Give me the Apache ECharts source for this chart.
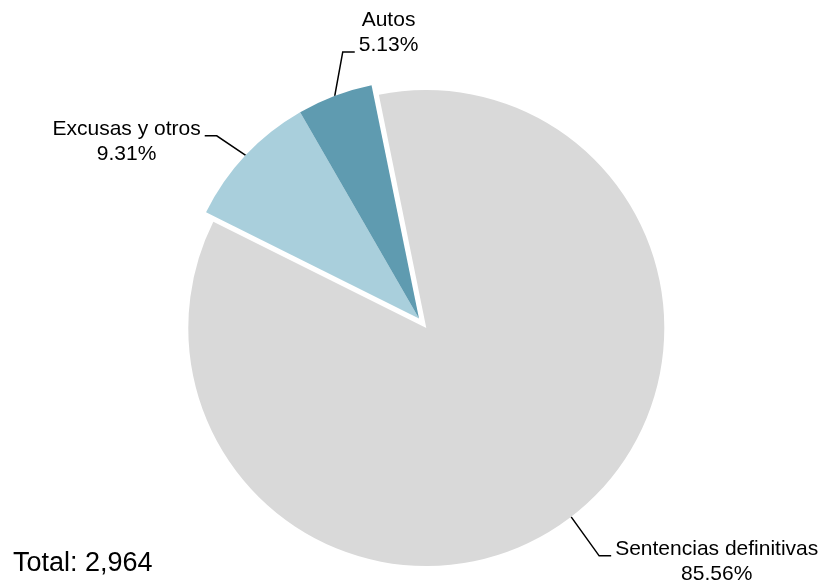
<!DOCTYPE html>
<html>
<head>
<meta charset="utf-8">
<script src="https://cdn.jsdelivr.net/npm/echarts@6/dist/echarts.min.js"></script>
<style>
  html, body { margin: 0; padding: 0; background: #fff; }
  #chart { width: 826px; height: 585px; }
</style>
</head>
<body>
<div id="chart"></div>
<script>
// data
var categories = ['Sentencias definitivas', 'Excusas y otros', 'Autos'];
var counts = [2536, 276, 152];
var colors = ['#d9d9d9', '#a9cfdc', '#5f9bb0'];
var exploded = [true, false, false];

// label leader geometry: bend relative to slice edge, horizontal run, text offset
var bend = [[28, 39], [-29, -19.5], [8, -44]];
var run = [12, -12, 12];
var textDy = [6, 5.5, -19];

var cx = 419, cy = 318.5, R = 238, startAngle = 101.5, explode = 12;
var total = counts.reduce(function (a, b) { return a + b; }, 0);

function midAngle(i) {
  var before = 0;
  for (var k = 0; k < i; k++) before += counts[k];
  return (startAngle - 360 * (before + counts[i] / 2) / total) * Math.PI / 180;
}
function sliceCenter(i) {
  var off = exploded[i] ? explode : 0;
  var a = midAngle(i);
  return [cx + off * Math.cos(a), cy - off * Math.sin(a)];
}
function edgePoint(i) {
  var c = sliceCenter(i), a = midAngle(i);
  return [c[0] + R * Math.cos(a), c[1] - R * Math.sin(a)];
}

function layoutLabel(params) {
  var i = params.dataIndex;
  var p0 = edgePoint(i);
  var p1 = [p0[0] + bend[i][0], p0[1] + bend[i][1]];
  var p2 = [p1[0] + run[i], p1[1]];
  var w = params.labelRect.width;
  var gap = 4;
  var x = run[i] > 0 ? p2[0] + gap + w / 2 : p2[0] - gap - w / 2;
  return {
    x: x,
    y: p2[1] + textDy[i],
    align: 'center',
    verticalAlign: 'middle',
    labelLinePoints: [p0, p1, p2]
  };
}

// one pie per slice centre, so the exploded slice sits on its own offset centre
function pieSeries(explodedGroup) {
  var c = explodedGroup ? sliceCenter(exploded.indexOf(true)) : [cx, cy];
  return {
    type: 'pie',
    center: c,
    radius: R,
    startAngle: startAngle,
    clockwise: true,
    silent: true,
    avoidLabelOverlap: false,
    percentPrecision: 2,
    emphasis: { disabled: true },
    itemStyle: { borderWidth: 0 },
    label: {
      formatter: '{b}\n{d}%',
      color: '#000',
      fontSize: 21,
      lineHeight: 25,
      align: 'center',
      fontFamily: 'Liberation Sans, Arial, sans-serif'
    },
    labelLine: {
      show: true,
      lineStyle: { color: '#000', width: 1.5 }
    },
    labelLayout: layoutLabel,
    data: categories.map(function (name, i) {
      var mine = exploded[i] === explodedGroup;
      return {
        name: name,
        value: counts[i],
        itemStyle: { color: mine ? colors[i] : 'rgba(0,0,0,0)' },
        label: { show: mine },
        labelLine: { show: mine }
      };
    })
  };
}

var chart = echarts.init(document.getElementById('chart'));
chart.setOption({
  animation: false,
  graphic: [{
    type: 'text',
    left: 13,
    bottom: 8,
    style: {
      text: 'Total: ' + total.toLocaleString('en-US'),
      font: '27px "Liberation Sans", Arial, sans-serif',
      fill: '#000'
    }
  }],
  series: [pieSeries(true), pieSeries(false)]
});
</script>
</body>
</html>
